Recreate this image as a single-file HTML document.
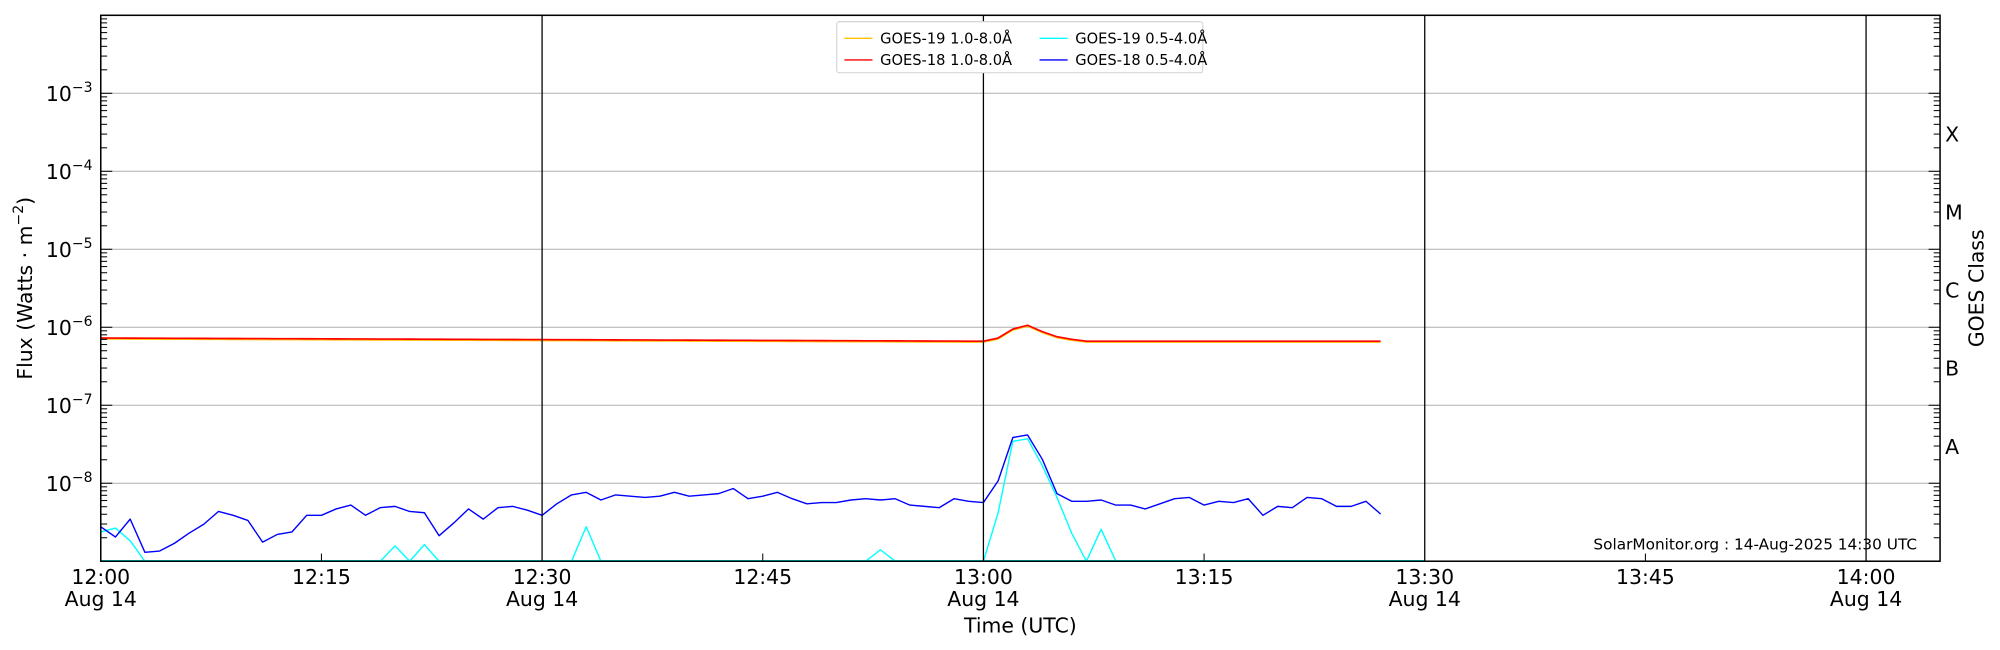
<!DOCTYPE html>
<html><head><meta charset="utf-8"><style>
html,body{margin:0;padding:0;background:#fff;}
svg{display:block;font-family:"DejaVu Sans","Liberation Sans",sans-serif;}
</style></head><body>
<svg id="s" width="2000" height="650" viewBox="0 0 1568 509.6" preserveAspectRatio="none" xmlns="http://www.w3.org/2000/svg">
<rect x="0" y="0" width="1568" height="510" fill="#fff"/>
<g id="grid"></g>
<g id="data"></g>
<g id="axes"></g>
<g id="txt" fill="#000"></g>
</svg>
<script>
const L=79,R=1521,T=12,B=440,DEC=(B-T)/7,MIN=(771-79)/60;
const NS="http://www.w3.org/2000/svg";
function el(p,tag,attrs,text){const e=document.createElementNS(NS,tag);for(const k in attrs)e.setAttribute(k,attrs[k]);if(text!==undefined)e.textContent=text;document.getElementById(p).appendChild(e);return e;}
for(let d=1;d<=6;d++){const y=B-d*DEC;el('grid','line',{x1:L,x2:R,y1:y,y2:y,stroke:'#b0b0b0','stroke-width':0.8});}
[30,60,90,120].forEach(m=>{const x=L+m*MIN;el('axes','line',{x1:x,x2:x,y1:T,y2:B,stroke:'#000','stroke-width':1});});
for(let d=0;d<7;d++){for(let k=2;k<=9;k++){const y=B-(d+Math.log10(k))*DEC;
 el('axes','line',{x1:L,x2:L+5,y1:y,y2:y,stroke:'#000','stroke-width':0.8});
 el('axes','line',{x1:R-5,x2:R,y1:y,y2:y,stroke:'#000','stroke-width':0.8});}
 const y=B-d*DEC; if(d>0){el('axes','line',{x1:L,x2:L+9,y1:y,y2:y,stroke:'#000','stroke-width':0.8});el('axes','line',{x1:R-9,x2:R,y1:y,y2:y,stroke:'#000','stroke-width':0.8});}
}
[15,45,75,105].forEach(m=>{const x=L+m*MIN;el('axes','line',{x1:x,x2:x,y1:B-6,y2:B,stroke:'#000','stroke-width':0.8});});
el('axes','rect',{x:L,y:T,width:R-L,height:B-T,fill:'none',stroke:'#000','stroke-width':1.2});
const blue=[413,421,407,433,432,426,418,411,401,404,408,425,419,417,404,404,399,396,404,398,397,401,402,420,410,399,407,398,397,400,404,395,388,386,392,388,389,390,389,386,389,388,387,383,391,389,386,391,395,394,394,392,391,392,391,396,397,398,391,393,394,377,343,341,360,387,393,393,392,396,396,399,395,391,390,396,393,394,391,404,397,398,390,391,397,397,393,403];
const cyan={0:417,1:414,2:424,3:440,18:440,19:440,20:428,21:440,22:427,23:440,32:440,33:413,34:440,52:440,53:431,54:440,60:440,61:402,62:346,63:344,64:365,65:390,66:418,67:440,68:415,69:440};
function pl(pts,c,w){el('data','polyline',{points:pts.map(p=>p.join(',')).join(' '),fill:'none',stroke:c,'stroke-width':w,'stroke-linejoin':'round'});}
const ck=Object.keys(cyan).map(Number).sort((a,b)=>a-b);
let seg=[];for(let i=0;i<ck.length;i++){const m=ck[i];if(seg.length&&m-seg[seg.length-1][2]>1){pl(seg.map(p=>[p[0],p[1]]),'#00ffff',1.1);seg=[];}seg.push([L+m*MIN,cyan[m],m]);}
pl(seg.map(p=>[p[0],p[1]]),'#00ffff',1.1);
el('data','line',{x1:L,x2:L+90*MIN,y1:B-0.5,y2:B-0.5,stroke:'#00ffff','stroke-width':1});
pl(blue.map((y,i)=>[L+i*MIN,y]),'#0000ff',1.1);
const red=[];for(let i=0;i<=87;i++){let y=265+(i/60)*2.5; if(i>60)y=267.5; const bump={61:265,62:258,63:255,64:260,65:264,66:266};if(bump[i])y=bump[i];red.push([L+i*MIN,y]);}
pl(red.map(p=>[p[0],p[1]+0.8]),'#ffc000',1.1);
pl(red,'#ff0000',1.3);
el('txt','rect',{x:656,y:17,width:287,height:40,fill:'#fff',stroke:'#d0d0d0','stroke-width':0.8,rx:2});
const lg=[[660,30,'#ffc000','GOES-19 1.0-8.0Å'],[660,47,'#ff0000','GOES-18 1.0-8.0Å'],[813,30,'#00ffff','GOES-19 0.5-4.0Å'],[813,47,'#0000ff','GOES-18 0.5-4.0Å']];
lg.forEach(a=>{el('txt','line',{x1:a[0]+2,x2:a[0]+24,y1:a[1],y2:a[1],stroke:a[2],'stroke-width':1.1});el('txt','text',{x:a[0]+30,y:a[1]+4,'font-size':11.5},a[3]);});
for(let d=1;d<=6;d++){const y=B-d*DEC;const t=el('txt','text',{x:36,y:y+6,'font-size':16});t.innerHTML='10<tspan dy="-7" font-size="11">−'+(9-d)+'</tspan>';}
[[0,1],[15,0],[30,1],[45,0],[60,1],[75,0],[90,1],[105,0],[120,1]].forEach(([m,d])=>{const x=L+m*MIN;const h=12+Math.floor(m/60),mm=m%60;
 el('txt','text',{x:x,y:458,'font-size':16,'text-anchor':'middle'},h+':'+String(mm).padStart(2,'0'));
 if(d)el('txt','text',{x:x,y:475,'font-size':16,'text-anchor':'middle'},'Aug 14');});
el('txt','text',{x:800,y:496,'font-size':16,'text-anchor':'middle'},'Time (UTC)');
const fl=el('txt','text',{x:0,y:0,'font-size':16,'text-anchor':'middle',transform:'translate(25,226) rotate(-90)'});fl.innerHTML='Flux (Watts · m<tspan dy="-7" font-size="11">−2</tspan><tspan dy="7">)</tspan>';
['X','M','C','B','A'].forEach((c,i)=>{el('txt','text',{x:1525,y:111+i*61.2,'font-size':16},c);});
el('txt','text',{x:0,y:0,'font-size':16,'text-anchor':'middle',transform:'translate(1555,226) rotate(-90)'},'GOES Class');
el('txt','text',{x:1503,y:431,'font-size':12,'text-anchor':'end'},'SolarMonitor.org : 14-Aug-2025 14:30 UTC');
</script>
</body></html>
